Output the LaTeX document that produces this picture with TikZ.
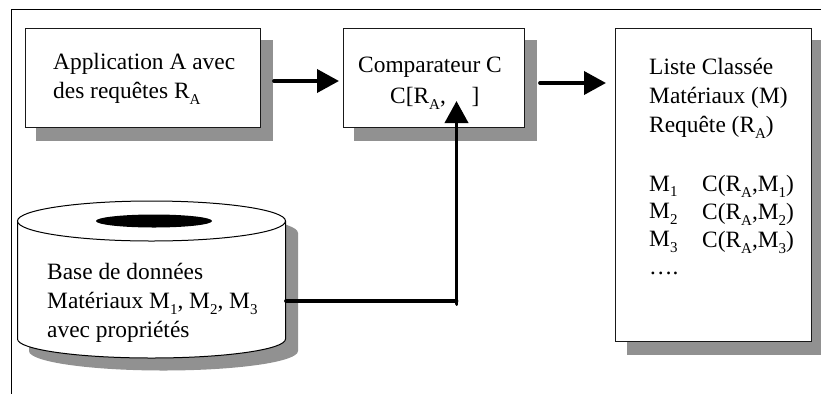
\documentclass[tikz,border=0pt]{standalone}
\usepackage{fontspec}
\setmainfont{Liberation Serif}
\usetikzlibrary{arrows.meta}
\tikzset{
  x=1pt,y=-1pt,
  shadowfill/.style={fill=black!43,draw=none},
  boxnode/.style={draw=black!90,line width=1pt,fill=white,anchor=north west,inner sep=0pt,minimum width=#1},
  label/.style={anchor=north west,inner sep=0pt,align=left,font=\fontsize{23.4}{29}\selectfont},
  conn/.style={line width=3.8pt,line cap=round,-{Triangle[length=22pt,width=23pt]}},
  pipe/.style={line width=3.8pt,line cap=round}
}
\newcommand{\sbs}[1]{\raisebox{-0.24em}{\fontsize{15}{15}\selectfont #1}}
\begin{document}
\begin{tikzpicture}
\useasboundingbox (0,0) rectangle (821,394);
\draw[line width=1pt] (821,9.5) -- (11.5,9.5) -- (11.5,394);
% shadows
\fill[shadowfill] (36,40) rectangle (273,141);
\fill[shadowfill] (354,40) rectangle (537,141);
\fill[shadowfill] (627,40) rectangle (821,355);
\fill[shadowfill] (29,233) -- (298,233) -- (298,351) arc[start angle=0,end angle=-180,x radius=134.5,y radius=-19.5] -- cycle;
\fill[shadowfill] (163.5,233) ellipse[x radius=134.5,y radius=20];
% boxes
\node[boxnode=235pt,minimum height=99pt] (a) at (25,28) {};
\node[boxnode=181pt,minimum height=99pt] (c) at (343,28) {};
\node[boxnode=196pt,minimum height=313pt] (l) at (615,28) {};
% cylinder
\path[draw=black,line width=1pt,fill=white] (17.5,221) -- (17.5,339) arc[start angle=180,end angle=360,x radius=134,y radius=-19] -- (285.5,221);
\path[draw=black,line width=1pt,fill=white] (151.5,221) ellipse[x radius=134,y radius=20];
\fill (154,221) ellipse[x radius=58,y radius=6.5];
\coordinate (dbport) at (286,301);
\coordinate (joint) at (456.5,301);
\coordinate (jointend) at (456.5,304);
\coordinate (ctip) at (456.5,101);
% connectors
\coordinate (ashadow) at (274,81);
\coordinate (cin) at (339,81);
\coordinate (cshadow) at (540,83);
\coordinate (lin) at (606,83);
\draw[conn] (ashadow) -- (cin);
\draw[conn] (cshadow) -- (lin);
\draw[pipe] (dbport) -- (joint);
\draw[conn] (jointend) -- (ctip);
% text
\node[label] (t1) at (53,53.5) {Application A avec\\des requêtes R\sbs{A}};
\node[label] (t2a) at (358,57) {Comparateur C};
\node[label] (t2b) at (390,87) {C[R\sbs{A},\hspace{1.1em}]};
\node[label] (t3) at (649,58.5) {Liste Classée\\Matériaux (M)\\Requête (R\sbs{A})};
\node[label,font=\fontsize{23.4}{27.8}\selectfont] (t4) at (649,175.5) {M\sbs{1}\\M\sbs{2}\\M\sbs{3}\\….};
\node[label,font=\fontsize{23.4}{27.8}\selectfont] (t5) at (702,175.5) {C(R\sbs{A},M\sbs{1})\\C(R\sbs{A},M\sbs{2})\\C(R\sbs{A},M\sbs{3})};
\node[label] (t6) at (47,263.5) {Base de données\\Matériaux M\sbs{1}, M\sbs{2}, M\sbs{3}\\avec propriétés};
\end{tikzpicture}
\end{document}
